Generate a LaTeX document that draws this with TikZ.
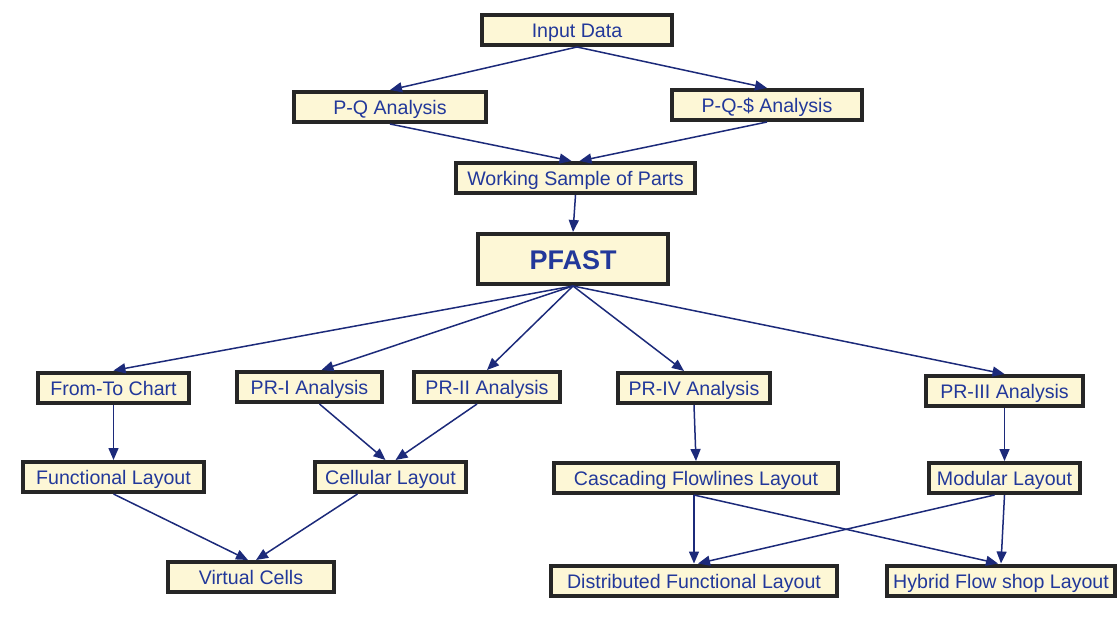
\documentclass[tikz,border=0pt]{standalone}
\usepackage{fontspec}
\setmainfont{Liberation Sans}
\usetikzlibrary{arrows.meta,calc}
\definecolor{boxfill}{HTML}{FDF7D6}
\definecolor{boxline}{HTML}{262626}
\definecolor{txtblue}{HTML}{22389A}
\definecolor{arr}{HTML}{1C2A7A}
\tikzset{
  box/.style={draw=boxline, fill=boxfill, line width=4pt, text=txtblue,
    font=\fontsize{19.6}{22}\selectfont, inner sep=0pt, minimum height=30pt,
    text height=15.5pt, text depth=0.5pt},
  bigbox/.style={box, font=\fontsize{27}{30}\selectfont\bfseries, minimum height=50pt,
    text height=20pt, text depth=0pt},
  conn/.style={draw=arr, line width=1.5pt, -{Triangle[length=12pt,width=10pt]}},
}
\begin{document}
\begin{tikzpicture}[x=1pt,y=-1pt]
\useasboundingbox (0,0) rectangle (1118,616);
\node[box, minimum width=190pt] (inp) at (577,30) {Input Data};
\node[box, minimum width=192pt] (pq) at (390,107) {P-Q Analysis};
\node[box, minimum width=190pt] (pqd) at (767,105) {P-Q-\$ Analysis};
\node[box, minimum width=239pt] (ws) at (575.5,178) {Working Sample of Parts};
\node[bigbox, minimum width=190pt] (pf) at (573,259) {PFAST};
\node[box, minimum width=151pt] (ft) at (113.5,387.5) {From-To Chart};
\node[box, minimum width=145pt] (pr1) at (309.5,387) {PR-I Analysis};
\node[box, minimum width=146pt] (pr2) at (487,387) {PR-II Analysis};
\node[box, minimum width=152pt] (pr4) at (694,388) {PR-IV Analysis};
\node[box, minimum width=157pt] (pr3) at (1004.5,391) {PR-III Analysis};
\node[box, minimum width=181pt] (fl) at (113.5,477) {Functional Layout};
\node[box, minimum width=151pt] (cl) at (390.5,477) {Cellular Layout};
\node[box, minimum width=284pt] (cf) at (696,478) {Cascading Flowlines Layout};
\node[box, minimum width=151pt] (ml) at (1004.5,478) {Modular Layout};
\node[box, minimum width=166pt] (vc) at (251,577) {Virtual Cells};
\node[box, minimum width=286pt] (df) at (694,580.5) {Distributed Functional Layout};
\node[box, minimum width=228pt] (hf) at (1001,580.5) {Hybrid Flow shop Layout};

\draw[conn] (inp.south) -- (pq.north);
\draw[conn] (inp.south) -- (pqd.north);
\draw[conn] (pq.south) -- ([xshift=-4pt]ws.north);
\draw[conn] (pqd.south) -- ([xshift=4pt]ws.north);
\draw[conn] (ws.south) -- (pf.north);
\draw[conn] (pf.south) -- (ft.north);
\draw[conn] (pf.south) -- ([xshift=12pt]pr1.north);
\draw[conn] (pf.south) -- (pr2.north);
\draw[conn] (pf.south) -- ([xshift=-10pt]pr4.north);
\draw[conn] (pf.south) -- (pr3.north);
\draw[conn] (ft.south) -- (fl.north);
\draw[conn] ([xshift=10pt]pr1.south) -- ([xshift=-5pt]cl.north);
\draw[conn] ([xshift=-10pt]pr2.south) -- ([xshift=5pt]cl.north);
\draw[conn] (fl.south) -- ([xshift=-3pt]vc.north);
\draw[conn] ([xshift=-33pt]cl.south) -- ([xshift=5pt]vc.north);
\draw[conn] (pr4.south) -- (cf.north);
\draw[conn] (pr3.south) -- (ml.north);
\draw[conn] ([xshift=-2pt]cf.south) -- (df.north);
\draw[conn] ([xshift=-2pt]cf.south) -- ([xshift=-3pt]hf.north);
\draw[conn] ([xshift=-10pt]ml.south) -- ([xshift=4pt]df.north);
\draw[conn] (ml.south) -- (hf.north);
\end{tikzpicture}
\end{document}
